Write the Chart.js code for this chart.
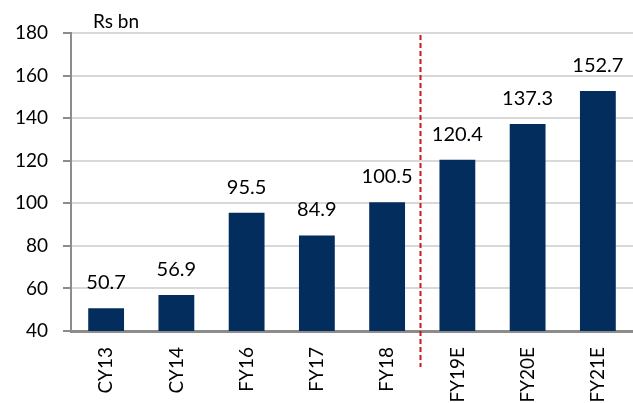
<!DOCTYPE html>
<html>
<head>
<meta charset="utf-8">
<script src="https://cdn.jsdelivr.net/npm/chart.js@4/dist/chart.umd.min.js"></script>
<style>
  html, body { margin: 0; padding: 0; background: #fff; }
  #wrap { width: 633px; height: 403px; position: relative; }
</style>
</head>
<body>
<div id="wrap"><canvas id="chart"></canvas></div>
<script>
const categories = ["CY13", "CY14", "FY16", "FY17", "FY18", "FY19E", "FY20E", "FY21E"];
const values = [50.7, 56.9, 95.5, 84.9, 100.5, 120.4, 137.3, 152.7];
const yTicks = [40, 60, 80, 100, 120, 140, 160, 180];
const unitLabel = "Rs bn";
const splitAfter = 4; // dashed line between FY18 and FY19E

const FONT = "Lato, 'Open Sans', sans-serif";

const valueLabels = {
    id: "valueLabels",
    afterDatasetsDraw(chart) {
        const ctx = chart.ctx;
        const meta = chart.getDatasetMeta(0);
        ctx.save();
        ctx.font = `20px ${FONT}`;
        ctx.fillStyle = "#000";
        ctx.textAlign = "center";
        ctx.textBaseline = "alphabetic";
        meta.data.forEach((bar, i) => {
            ctx.fillText(values[i].toFixed(1), bar.x, bar.y - 19);
        });
        ctx.restore();
    },
};

const extras = {
    id: "extras",
    afterDraw(chart) {
        const ctx = chart.ctx;
        const x = chart.scales.x;
        const y = chart.scales.y;
        const px = Math.round(x.getPixelForValue(splitAfter + 0.47)) + 0.5;
        ctx.save();
        ctx.strokeStyle = "#d0161d";
        ctx.lineWidth = 2;
        ctx.setLineDash([5, 3]);
        ctx.beginPath();
        ctx.moveTo(px, y.getPixelForValue(180) + 2);
        ctx.lineTo(px, chart.chartArea.bottom + 36);
        ctx.stroke();
        ctx.restore();

        ctx.save();
        ctx.font = `19px ${FONT}`;
        ctx.fillStyle = "#000";
        ctx.textAlign = "left";
        ctx.fillText(unitLabel, 93, 28);
        ctx.restore();
    },
};

new Chart(document.getElementById("chart"), {
    type: "bar",
    data: {
        labels: categories,
        datasets: [{
            data: values,
            backgroundColor: "#032d5d",
            categoryPercentage: 1,
            barPercentage: 0.51,
        }],
    },
    options: {
        responsive: true,
        maintainAspectRatio: false,
        animation: false,
        events: [],
        layout: { padding: { top: 33, right: 0, left: 0, bottom: 0 } },
        plugins: { legend: { display: false }, tooltip: { enabled: false } },
        scales: {
            x: {
                grid: { display: false },
                border: { display: true, color: "#8c8c8c", width: 3 },
                ticks: {
                    color: "#000",
                    font: { family: FONT, size: 19 },
                    minRotation: 90,
                    maxRotation: 90,
                    padding: 8,
                },
                afterFit(scale) { scale.height = 72; },
            },
            y: {
                min: 40,
                max: 180,
                afterBuildTicks(scale) { scale.ticks = yTicks.map((v) => ({ value: v })); },
                grid: { color: "#d9d9d9", lineWidth: 2, tickColor: "#8c8c8c", tickLength: 8 },
                border: { display: true, color: "#8c8c8c", width: 2 },
                ticks: {
                    color: "#000",
                    font: { family: FONT, size: 19 },
                    padding: 15,
                },
                afterFit(scale) { scale.width = 71; },
            },
        },
    },
    plugins: [valueLabels, extras],
});
</script>
</body>
</html>
